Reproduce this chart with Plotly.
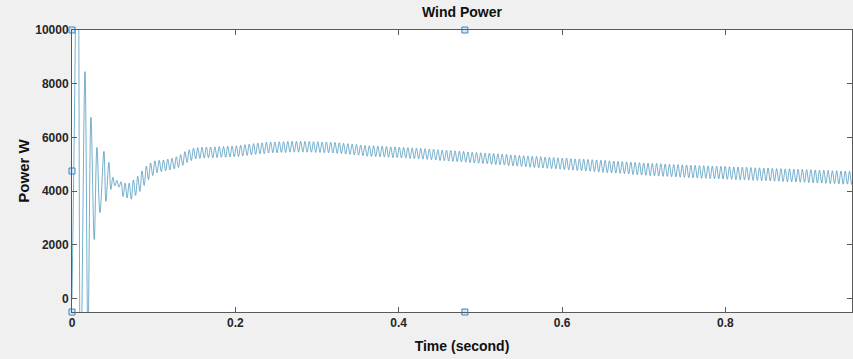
import plotly.graph_objects as go

# ---- data ----
# start-up transient: explicit extrema (time s, power W)
transient_t = [0.0000, 0.0025, 0.0070, 0.0105, 0.0159, 0.0195, 0.0232, 0.0272,
               0.0305, 0.0342, 0.0391, 0.0415, 0.0452, 0.0476, 0.0501, 0.0525,
               0.0550, 0.0575, 0.0600, 0.0625, 0.0650, 0.0675]
transient_p = [0, 5500, 16000, -3500, 8450, -1500, 6750, 2200,
               5630, 3200, 5480, 3620, 5070, 4060, 4510, 4200,
               4400, 4150, 4350, 3800, 4300, 3750]

# steady ripple: first peak time and ripple period (s), then peak / trough values (W)
ripple_t0 = 0.070
ripple_period = 0.00525
ripple_peaks = [
    4300, 4420, 4550, 4750, 4930, 5050, 5130, 5150, 5160, 5190,
    5230, 5280, 5360, 5470, 5540, 5600, 5620, 5630, 5640, 5640,
    5650, 5660, 5660, 5670, 5680, 5690, 5710, 5730, 5750, 5770,
    5790, 5800, 5820, 5830, 5830, 5840, 5840, 5850, 5850, 5850,
    5850, 5850, 5850, 5840, 5840, 5830, 5830, 5820, 5810, 5800,
    5780, 5770, 5750, 5740, 5720, 5700, 5690, 5690, 5680, 5670,
    5660, 5650, 5650, 5640, 5630, 5620, 5610, 5600, 5590, 5580,
    5570, 5560, 5540, 5530, 5520, 5510, 5500, 5490, 5480, 5460,
    5450, 5440, 5430, 5420, 5410, 5400, 5390, 5380, 5370, 5350,
    5340, 5330, 5320, 5310, 5300, 5290, 5280, 5270, 5260, 5250,
    5240, 5230, 5230, 5210, 5200, 5200, 5190, 5180, 5170, 5160,
    5150, 5140, 5130, 5120, 5110, 5100, 5090, 5080, 5070, 5060,
    5050, 5040, 5030, 5030, 5020, 5010, 5000, 4990, 4990, 4980,
    4970, 4960, 4960, 4950, 4950, 4940, 4930, 4930, 4920, 4920,
    4910, 4900, 4900, 4890, 4890, 4880, 4870, 4870, 4860, 4860,
    4850, 4840, 4840, 4830, 4830, 4820, 4810, 4810, 4800, 4800,
    4790, 4780, 4780, 4770, 4760, 4760, 4750, 4750, 4740, 4730]
ripple_troughs = [
    3700, 3840, 3990, 4210, 4430, 4580, 4690, 4730, 4760, 4790,
    4830, 4880, 4960, 5070, 5140, 5200, 5220, 5230, 5240, 5240,
    5250, 5260, 5260, 5270, 5280, 5290, 5310, 5330, 5350, 5370,
    5390, 5400, 5420, 5430, 5430, 5440, 5440, 5450, 5450, 5450,
    5450, 5450, 5450, 5440, 5440, 5430, 5430, 5420, 5410, 5400,
    5380, 5370, 5350, 5340, 5320, 5300, 5290, 5290, 5280, 5270,
    5260, 5250, 5250, 5240, 5230, 5220, 5210, 5200, 5190, 5180,
    5170, 5160, 5140, 5130, 5120, 5110, 5100, 5090, 5080, 5060,
    5050, 5040, 5030, 5020, 5000, 4990, 4980, 4970, 4950, 4940,
    4930, 4920, 4910, 4890, 4880, 4870, 4860, 4850, 4840, 4830,
    4820, 4800, 4790, 4780, 4770, 4760, 4750, 4740, 4730, 4710,
    4700, 4690, 4680, 4670, 4660, 4650, 4640, 4620, 4610, 4600,
    4590, 4580, 4570, 4560, 4550, 4550, 4540, 4530, 4520, 4510,
    4500, 4500, 4490, 4480, 4480, 4470, 4460, 4460, 4450, 4440,
    4440, 4430, 4420, 4420, 4410, 4400, 4400, 4390, 4390, 4380,
    4370, 4370, 4360, 4350, 4350, 4340, 4330, 4330, 4320, 4310,
    4300, 4300, 4290, 4280, 4280, 4270, 4260, 4260, 4250, 4240]

# selection handles visible on the axes box
handle_t = [0.0, 0.0, 0.0, 0.481, 0.481]
handle_p = [10000, 4750, -500, 10000, -500]

x_ticks = [0, 0.2, 0.4, 0.6, 0.8]
x_ticklabels = ["0", "0.2", "0.4", "0.6", "0.8"]
y_ticks = [0, 2000, 4000, 6000, 8000, 10000]
y_ticklabels = ["0", "2000", "4000", "6000", "8000", "10000"]

# ---- assemble series ----
t = list(transient_t)
p = list(transient_p)
for i, (pk, tr) in enumerate(zip(ripple_peaks, ripple_troughs)):
    t.append(ripple_t0 + i * ripple_period)
    p.append(pk)
    t.append(ripple_t0 + (i + 0.5) * ripple_period)
    p.append(tr)

FONT = "Liberation Sans, Arial, Helvetica, sans-serif"

fig = go.Figure()
fig.add_trace(go.Scatter(x=t, y=p, mode="lines",
                         line=dict(color="#3a8db6", width=0.7, shape="spline", smoothing=1.0),
                         hoverinfo="skip", showlegend=False))
fig.add_trace(go.Scatter(x=handle_t, y=handle_p, mode="markers",
                         marker=dict(symbol="square", size=6, color="#d3e6f6",
                                     line=dict(color="#3f86c0", width=1)),
                         cliponaxis=False, hoverinfo="skip", showlegend=False))

axis_common = dict(showline=True, mirror="ticks", linecolor="#5a5a5a", linewidth=1,
                   ticks="inside", ticklen=5, tickcolor="#5a5a5a", showgrid=False,
                   zeroline=False,
                   tickfont=dict(family=FONT, size=12, color="#262626", weight="bold"))

fig.update_layout(
    width=853, height=359,
    margin=dict(l=72, r=1, t=30, b=47),
    paper_bgcolor="#f0f0f0", plot_bgcolor="#ffffff",
    title=dict(text="Wind Power", x=0.5, xref="paper", y=1 - 12 / 359, yref="container",
               yanchor="middle", font=dict(family=FONT, size=14, color="#111111", weight="bold")),
    xaxis=dict(range=[0, 0.955], tickvals=x_ticks, ticktext=x_ticklabels,
               title=dict(text="Time (second)", standoff=11,
                          font=dict(family=FONT, size=14, color="#111111", weight="bold")),
               **axis_common),
    yaxis=dict(range=[-500, 10000], tickvals=y_ticks, ticktext=y_ticklabels,
               title=dict(text="Power W", standoff=1,
                          font=dict(family=FONT, size=15, color="#111111", weight="bold")),
               **axis_common),
)

fig.write_html("out.html")
